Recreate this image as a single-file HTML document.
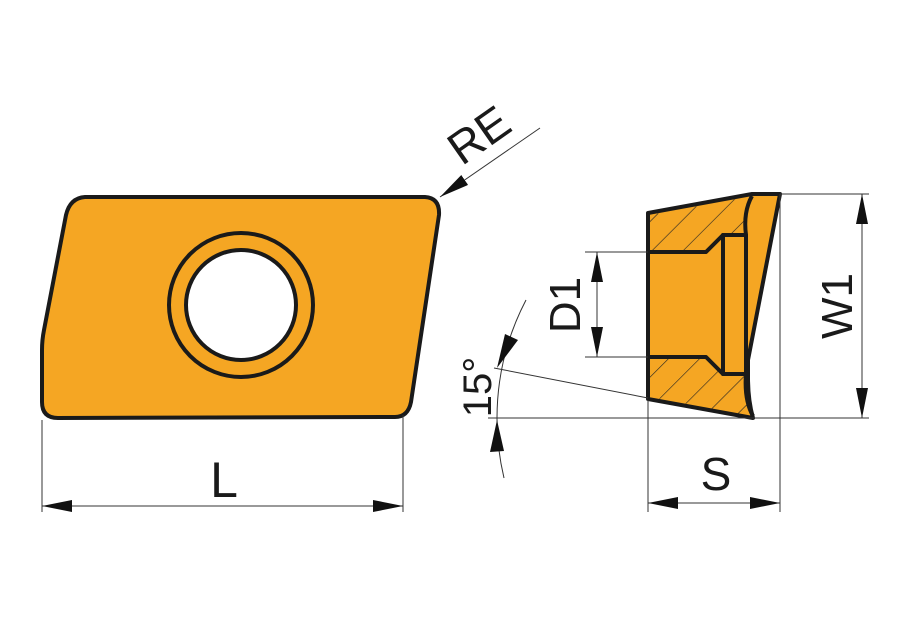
<!DOCTYPE html>
<html><head><meta charset="utf-8"><style>
html,body{margin:0;padding:0;background:#fff;}
svg{display:block;}
text{font-family:"Liberation Sans",Arial,sans-serif;fill:#1a1a1a;}
</style></head><body>
<svg width="900" height="620" viewBox="0 0 900 620" xmlns="http://www.w3.org/2000/svg">
<defs>
<pattern id="h" patternUnits="userSpaceOnUse" width="22" height="22" patternTransform="rotate(45)">
<line x1="0" y1="0" x2="0" y2="22" stroke="#222" stroke-width="1.2"/>
</pattern>
<marker id="a" viewBox="0 0 30 12" refX="30" refY="6" markerWidth="30" markerHeight="12" markerUnits="userSpaceOnUse" orient="auto-start-reverse"><path d="M0,0 L30,6 L0,12 Z" fill="#111"/></marker>
</defs>
<!-- main insert -->
<path d="M85,197 L425,197 Q440,198 439,215 L411,402 Q408,417 395,417 L58,418 Q42,418 42,402 L42,350 Q42,340 44,330 L66,215 Q70,198 85,197 Z" fill="#f5a623" stroke="#1a1a1a" stroke-width="4" stroke-linejoin="round"/>
<circle cx="241" cy="305" r="72" fill="none" stroke="#1a1a1a" stroke-width="4"/>
<circle cx="241" cy="305" r="55" fill="#fff" stroke="#1a1a1a" stroke-width="4"/>
<!-- L dim -->
<g stroke="#333" stroke-width="1" fill="none">
<line x1="42" y1="420" x2="42" y2="512"/>
<line x1="403" y1="415" x2="403" y2="512"/>
<line x1="42" y1="506" x2="403" y2="506" marker-start="url(#a)" marker-end="url(#a)"/>
</g>
<text x="224" y="497" font-size="50" text-anchor="middle">L</text>
<!-- RE -->
<line x1="540" y1="128" x2="440" y2="197" stroke="#333" stroke-width="1" marker-end="url(#a)"/>
<text x="0" y="0" font-size="46" text-anchor="middle" transform="translate(488,148) rotate(-35)">RE</text>
<!-- side view -->
<path d="M648,213 L752,194 L780,194 L748,360 L748,378 Q748,400 753,418 L648,399 Z" fill="#f5a623" stroke="#1a1a1a" stroke-width="4" stroke-linejoin="round"/>
<path d="M650,215 L752,196 Q744,210 746,235 L723,235 L708,252 L650,252 Z" fill="url(#h)"/>
<path d="M650,357 L708,357 L723,374 L746,374 Q744,395 751,416 L650,397 Z" fill="url(#h)"/>
<g stroke="#1a1a1a" stroke-width="4" fill="none" stroke-linejoin="round">
<path d="M648,252 L706,252 L723,235 L746,235 Q743,212 752,196"/>
<path d="M648,357 L706,357 L723,374 L746,374 Q744,400 753,416"/>
<rect x="723" y="235" width="23" height="139"/>
</g>
<!-- D1 -->
<g stroke="#333" stroke-width="1" fill="none">
<line x1="585" y1="252" x2="648" y2="252"/>
<line x1="585" y1="357" x2="648" y2="357"/>
<line x1="597" y1="305" x2="597" y2="252" marker-end="url(#a)"/>
<line x1="597" y1="305" x2="597" y2="357" marker-end="url(#a)"/>
</g>
<text x="0" y="0" font-size="44" text-anchor="middle" transform="translate(580,305) rotate(-90)">D1</text>
<!-- W1 -->
<g stroke="#333" stroke-width="1" fill="none">
<line x1="780" y1="194" x2="869" y2="194"/>
<line x1="488" y1="418" x2="869" y2="418"/>
<line x1="862" y1="306" x2="862" y2="194" marker-end="url(#a)"/>
<line x1="862" y1="306" x2="862" y2="418" marker-end="url(#a)"/>
</g>
<text x="0" y="0" font-size="44" text-anchor="middle" transform="translate(852,306) rotate(-90)">W1</text>
<!-- S -->
<g stroke="#333" stroke-width="1" fill="none">
<line x1="648" y1="400" x2="648" y2="512"/>
<line x1="780" y1="194" x2="780" y2="512"/>
<line x1="648" y1="503" x2="780" y2="503" marker-start="url(#a)" marker-end="url(#a)"/>
</g>
<text x="716" y="490" font-size="46" text-anchor="middle">S</text>
<!-- 15 deg -->
<g stroke="#333" stroke-width="1" fill="none">
<line x1="494" y1="368" x2="648" y2="398"/>
<path d="M526,300 A256,256 0 0 0 497,418 A256,256 0 0 0 504,478"/>
</g>
<path d="M497,368 L505,334 L518,340 Z" fill="#111"/>
<path d="M497,420 L490,452 L504,451 Z" fill="#111"/>
<text x="0" y="0" font-size="40" text-anchor="middle" transform="translate(491,387) rotate(-90)">15°</text>
</svg>
</body></html>
